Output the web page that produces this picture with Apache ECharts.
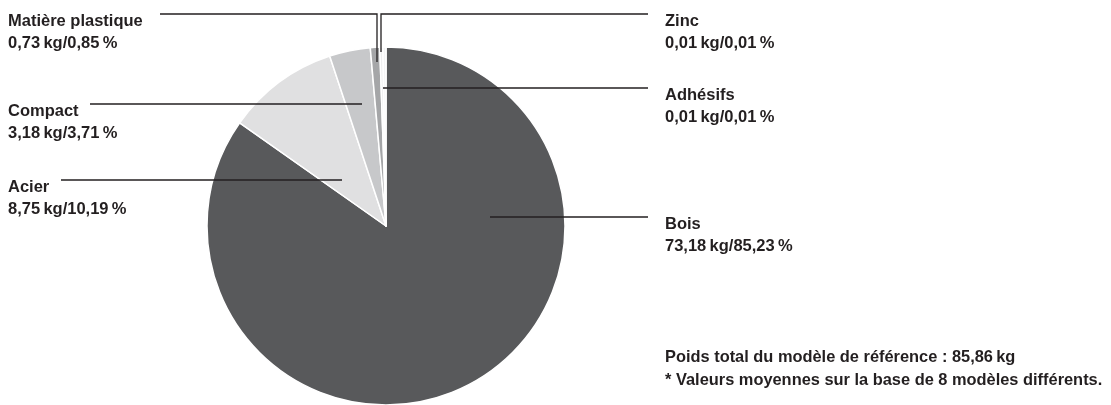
<!DOCTYPE html>
<html>
<head>
    <meta charset="utf-8">
    <title>Poids</title>
    <script type="text/javascript" src="https://cdn.jsdelivr.net/npm/echarts@6/dist/echarts.min.js"></script>
    <style>
        body { margin: 0; background: #fff; }
    </style>
</head>
<body>
<div id="pieChart" style="width: 1111px; height: 405px;"></div>
<script type="text/javascript">
    var names = ['Bois', 'Acier', 'Compact', 'Matière plastique', 'Adhésifs', 'Zinc'];
    var weightsKg = [73.18, 8.75, 3.18, 0.73, 0.01, 0.01];
    var percents = [85.23, 10.19, 3.71, 0.85, 0.01, 0.01];
    var notes = [
        'Poids total du modèle de référence : 85,86\u2009kg',
        '* Valeurs moyennes sur la base de 8 modèles différents.'
    ];

    var colors = ['#58595b', '#e0e0e1', '#c7c8ca', '#a5a6a8', '#eeeeef', '#f4f4f5'];
    var ink = '#231f20';
    var font = '"Liberation Sans", Arial, sans-serif';

    // label anchor: text x, line y, outer end of line, inner end of line (x, y)
    var leaders = [
        { tx: 665, ly: 217, ex: 648, ix: 490, iy: 217 },
        { tx: 8, ly: 180, ex: 61, ix: 342, iy: 180 },
        { tx: 8, ly: 104, ex: 90, ix: 362, iy: 104 },
        { tx: 8, ly: 14, ex: 160, ix: 377, iy: 62 },
        { tx: 665, ly: 88, ex: 648, ix: 383, iy: 88 },
        { tx: 665, ly: 14, ex: 648, ix: 381, iy: 52 }
    ];

    function fr(v) {
        return v.toFixed(2).replace('.', ',');
    }

    var pieData = [];
    var overlayData = [];
    for (var i = 0; i < names.length; i++) {
        pieData.push({
            name: names[i],
            value: percents[i],
            itemStyle: { color: colors[i] }
        });
        overlayData.push({ name: names[i], value: percents[i] });
    }

    var pieBase = {
        type: 'pie',
        center: [386, 226],
        radius: 179,
        startAngle: 90,
        clockwise: true,
        minAngle: 1,
        silent: true
    };

    var chart = echarts.init(document.getElementById('pieChart'));
    chart.setOption({
        animation: false,
        title: {
            text: notes.join('\n'),
            left: 660,
            top: 341,
            textStyle: {
                fontFamily: font,
                fontWeight: 'bold',
                fontSize: 16.4,
                lineHeight: 23,
                color: ink
            }
        },
        series: [
            Object.assign({}, pieBase, {
                z: 2,
                data: pieData,
                itemStyle: {
                    borderColor: '#fff',
                    borderWidth: 1.5
                },
                label: { show: false },
                labelLine: { show: false }
            }),
            // same slices again, see-through, only to carry labels and leader lines above the pie
            Object.assign({}, pieBase, {
                z: 3,
                data: overlayData,
                itemStyle: { color: 'rgba(0,0,0,0)', borderWidth: 0 },
                label: {
                    show: true,
                    position: 'outside',
                    formatter: function (p) {
                        var k = p.dataIndex;
                        return names[k] + '\n' + fr(weightsKg[k]) + '\u2009kg/' + fr(percents[k]) + '\u2009%';
                    },
                    fontFamily: font,
                    fontWeight: 'bold',
                    fontSize: 16.5,
                    lineHeight: 22,
                    color: ink
                },
                labelLine: {
                    show: true,
                    smooth: false,
                    lineStyle: { color: ink, width: 1.3 }
                },
                labelLayout: function (params) {
                    var a = leaders[params.dataIndex];
                    var pts;
                    if (a.iy !== a.ly) {
                        pts = [[a.ix, a.iy], [a.ix, a.ly], [a.ex, a.ly]];
                    } else {
                        pts = [[a.ix, a.iy], [(a.ix + a.ex) / 2, a.ly], [a.ex, a.ly]];
                    }
                    return {
                        x: a.tx,
                        y: a.ly - 4,
                        align: 'left',
                        verticalAlign: 'top',
                        hideOverlap: false,
                        labelLinePoints: pts
                    };
                }
            })
        ]
    });
</script>
</body>
</html>
